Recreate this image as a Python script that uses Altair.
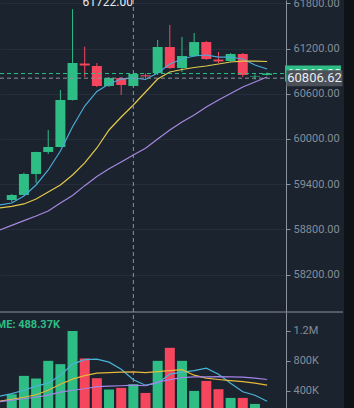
import altair as alt
import pandas as pd

# ---------------- data ----------------
idx = list(range(22))
opens = [59190, 59256, 59535, 59827, 59893, 60517, 61001, 60968, 60703, 60809, 60703,
         60845, 60875, 61220, 60941, 61101, 61286, 61054, 61034, 61127, 60822, 60849]
closes = [59256, 59535, 59827, 59893, 60517, 61008, 60975, 60703, 60809, 60716, 60862,
          60830, 61220, 60941, 61101, 61286, 61061, 61028, 61127, 60849, 60829, 60868]
highs = [59269, 59552, 59830, 60119, 60650, 61722, 61224, 61008, 60822, 60822, 60875,
         60870, 61313, 61512, 61353, 61406, 61300, 61154, 61140, 61140, 60855, 60882]
lows = [59163, 59250, 59415, 59800, 59890, 60510, 60826, 60689, 60690, 60583, 60690,
        60800, 60849, 60928, 60888, 61088, 61048, 61008, 61021, 60822, 60789, 60842]
volumes = [356e3, 600e3, 565e3, 800e3, 756e3, 1196e3, 832e3, 569e3, 419e3, 440e3, 488370,
           373e3, 800e3, 973e3, 800e3, 400e3, 533e3, 423e3, 307e3, 307e3, 227e3, 100e3]

ma_idx = list(range(-1, 22))
price_ma_fast = [59123, 59150, 59243, 59389, 59588, 59840, 60162, 60437, 60630, 60729, 60795, 60809,
                 60789, 60875, 60995, 61061, 61101, 61114, 61087, 61087, 61061, 60981, 60928]
price_ma_mid = [59084, 59104, 59137, 59203, 59296, 59389, 59522, 59681, 59880, 60119, 60291, 60450,
                60623, 60795, 60888, 60922, 60948, 60968, 60995, 61021, 61034, 61034, 61028]
price_ma_slow = [58792, 58853, 58915, 58977, 59044, 59150, 59250, 59380, 59502, 59605, 59694, 59787,
                 59876, 59999, 60119, 60225, 60318, 60424, 60517, 60603, 60689, 60756, 60822]
vol_ma_fast = [329e3, 363e3, 409e3, 463e3, 503e3, 609e3, 756e3, 816e3, 823e3, 783e3, 689e3, 549e3,
               476e3, 503e3, 623e3, 649e3, 669e3, 703e3, 623e3, 503e3, 389e3, 343e3, 263e3]
vol_ma_mid = [263e3, 289e3, 316e3, 349e3, 409e3, 489e3, 556e3, 603e3, 636e3, 643e3, 649e3, 653e3,
              643e3, 656e3, 669e3, 683e3, 609e3, 569e3, 552e3, 536e3, 523e3, 503e3, 476e3]
vol_ma_slow = [256e3, 276e3, 296e3, 316e3, 343e3, 383e3, 409e3, 429e3, 456e3, 463e3, 469e3, 476e3,
               469e3, 516e3, 549e3, 576e3, 587e3, 587e3, 589e3, 587e3, 583e3, 569e3, 552e3]

price_ticks = [58200, 58800, 59400, 60000, 60600, 61200, 61800]
volume_ticks = [400000, 800000, 1200000]
LAST_PRICE = 60868
CROSS_PRICE = 60806.62
CROSS_INDEX = 10
HIGH_INDEX = 5
HIGH_PRICE = 61722

# ---------------- styling ----------------
BG = "#1b232e"
GREEN = "#2ebd85"
RED = "#f6465d"
AXIS_C = "#8d939c"
LABEL_C = "#858d98"
FONT = "Roboto"

candles = pd.DataFrame({"i": idx, "open": opens, "close": closes, "high": highs,
                        "low": lows, "volume": volumes})
candles["dir"] = ["up" if c >= o else "down" for o, c in zip(opens, closes)]
ma = pd.DataFrame({"i": ma_idx, "pf": price_ma_fast, "pm": price_ma_mid, "ps": price_ma_slow,
                   "vf": vol_ma_fast, "vm": vol_ma_mid, "vs": vol_ma_slow})

xs = alt.Scale(domain=[-0.5556, 22.1429], nice=False, zero=False)
ps = alt.Scale(domain=[57703, 61844], range=[312, 0], nice=False, zero=False)
vs = alt.Scale(domain=[0, 1449333], range=[421, 312], nice=False, zero=False)

p_axis = alt.Axis(orient="right", values=price_ticks, format=".2f", grid=True, gridColor="#252e3a",
                  tickSize=4, tickColor=AXIS_C, domainColor=AXIS_C, labelColor=LABEL_C,
                  labelFontSize=11, labelPadding=3, labelFont=FONT, title=None)
v_axis = alt.Axis(orient="right", values=volume_ticks, grid=False, tickSize=4, tickColor=AXIS_C,
                  domainColor=AXIS_C, labelColor=LABEL_C, labelFontSize=11, labelPadding=3,
                  labelFont=FONT, title=None,
                  labelExpr="datum.value >= 1000000 ? format(datum.value/1000000, '.1f') + 'M' : format(datum.value/1000, 'd') + 'K'")

X = alt.X("i:Q", scale=xs, axis=None)
col = alt.Color("dir:N", scale=alt.Scale(domain=["up", "down"], range=[GREEN, RED]), legend=None)


def PY(f):
    return alt.Y(f, scale=ps, axis=p_axis)


def VY(f):
    return alt.Y(f, scale=vs, axis=v_axis)


base = alt.Chart(candles)
mab = alt.Chart(ma)

wicks = base.mark_rule(strokeWidth=1).encode(x=X, y=PY("low:Q"), y2="high:Q", color=col)
bodies = base.mark_bar(size=10).encode(x=X, y=PY("open:Q"), y2="close:Q", color=col)
pl1 = mab.mark_line(strokeWidth=1.2, color="#4aa9d8").encode(x=X, y=PY("pf:Q"))
pl2 = mab.mark_line(strokeWidth=1.2, color="#e3c94c").encode(x=X, y=PY("pm:Q"))
pl3 = mab.mark_line(strokeWidth=1.2, color="#a688e0").encode(x=X, y=PY("ps:Q"))

lastdf = pd.DataFrame({"v": [LAST_PRICE], "t": [f"{LAST_PRICE:.2f}"]})
crossdf = pd.DataFrame({"v": [CROSS_PRICE], "t": [f"{CROSS_PRICE:.2f}"], "i": [CROSS_INDEX]})
highdf = pd.DataFrame({"v": [HIGH_PRICE], "i": [HIGH_INDEX], "t": [f"{HIGH_PRICE:.2f}"]})

last_line = alt.Chart(lastdf).mark_rule(strokeDash=[4, 3], color=GREEN, strokeWidth=1).encode(
    y=PY("v:Q"), x=alt.value(0), x2=alt.value(286))
cross_h = alt.Chart(crossdf).mark_rule(strokeDash=[4, 3], color="#8d939c", strokeWidth=1).encode(
    y=PY("v:Q"), x=alt.value(0), x2=alt.value(286))
cross_v = alt.Chart(crossdf).mark_rule(strokeDash=[4, 3], color="#8d939c", strokeWidth=1).encode(
    x=X, y=alt.value(0), y2=alt.value(408))
high_text = alt.Chart(highdf).mark_text(align="left", baseline="alphabetic", dx=10, dy=-3,
                                        fontSize=12, font=FONT, color="#e8eaed").encode(
    x=X, y=PY("v:Q"), text="t:N")

last_box = alt.Chart(lastdf).mark_tick(orient="horizontal", thickness=16, size=56, color=GREEN,
                                       opacity=1).encode(y=PY("v:Q"), x=alt.value(313))
last_txt = alt.Chart(lastdf).mark_text(align="center", baseline="middle", fontSize=13, font=FONT,
                                       color="#ffffff").encode(y=PY("v:Q"), x=alt.value(314), text="t:N")
cross_box = alt.Chart(crossdf).mark_tick(orient="horizontal", thickness=16, size=56, color="#4b5059",
                                         opacity=1).encode(y=PY("v:Q"), x=alt.value(314.5))
cross_txt = alt.Chart(crossdf).mark_text(align="center", baseline="middle", fontSize=13, font=FONT,
                                         color="#eaecef").encode(y=PY("v:Q"), x=alt.value(314.5), text="t:N")

strip = alt.Chart(lastdf).mark_rect(color="#0f1317").encode(
    x=alt.value(344), x2=alt.value(354), y=alt.value(0), y2=alt.value(408))

price = alt.layer(wicks, bodies, pl1, pl2, pl3, last_line, cross_h, cross_v, high_text,
                  last_box, last_txt, cross_box, cross_txt, strip)

vbars = base.mark_bar(size=10).encode(x=X, y=VY("volume:Q"), color=col)
vl1 = mab.mark_line(strokeWidth=1.2, color="#4ab3d8").encode(x=X, y=VY("vf:Q"))
vl2 = mab.mark_line(strokeWidth=1.2, color="#e5b83a").encode(x=X, y=VY("vm:Q"))
vl3 = mab.mark_line(strokeWidth=1.2, color="#a484e8").encode(x=X, y=VY("vs:Q"))
sep = alt.Chart(lastdf).mark_rule(color="#8d939c", strokeWidth=1).encode(
    y=alt.value(312), x=alt.value(0), x2=alt.value(343))
voldf = pd.DataFrame({"t": [f"VOLUME: {volumes[CROSS_INDEX] / 1000:.2f}K"]})
vol_txt = alt.Chart(voldf).mark_text(align="right", baseline="middle", fontSize=11, fontWeight="bold",
                                     font=FONT, color=GREEN).encode(
    x=alt.value(60), y=alt.value(325), text="t:N")

volume = alt.layer(vbars, vl1, vl2, vl3, sep, vol_txt)

chart = alt.layer(price, volume).resolve_scale(y="independent").properties(
    width=286, height=408,
    autosize=alt.AutoSizeParams(type="none"),
    padding={"left": 0, "top": 0, "right": 68, "bottom": 0},
    background=BG,
).configure_view(stroke=None)

chart.save("out.html", embed_options={"renderer": "svg", "actions": False})
